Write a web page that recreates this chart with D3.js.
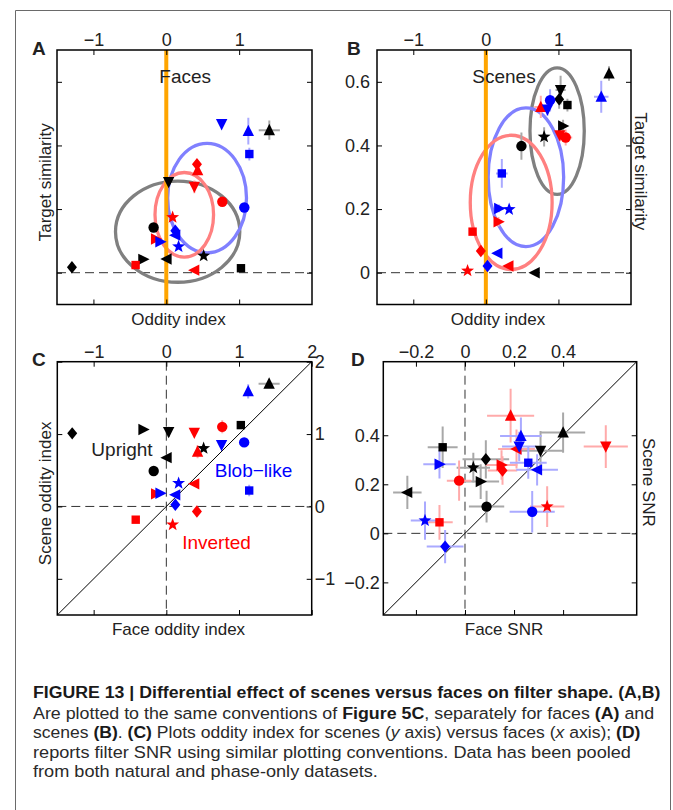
<!DOCTYPE html>
<html><head><meta charset="utf-8">
<script src="https://cdn.jsdelivr.net/npm/d3@7"></script>
<style>
body{margin:0;background:#fff}
svg{display:block}
</style>
</head><body>
<svg id="fig" width="673" height="810"></svg>
<script>
// ---------------- DATA ----------------
const groups = ["Upright", "Inverted", "Blob−like"];
const groupColors = ["#000000", "#ff0000", "#0000ff"];
const errColors = ["#a8a8a8", "#ffaaaa", "#aaaaff"];
const ellipseColors = ["#808080", "#ff8080", "#8080ff"];
const shapeNames = ["diamond", "right", "down", "left", "circle", "square", "up", "star"];

// 24 points: group-major (Upright, Inverted, Blob-like), shape order as shapeNames
const pointGroup = [0,0,0,0,0,0,0,0, 1,1,1,1,1,1,1,1, 2,2,2,2,2,2,2,2];
const pointShape = [0,1,2,3,4,5,6,7, 0,1,2,3,4,5,6,7, 0,1,2,3,4,5,6,7];

const faceOddity = [
  -1.295, -0.316, 0.032, 0.005, -0.174, 1.025, 1.414, 0.513,
   0.421, -0.142, 0.385, 0.385, 0.769, -0.421, 0.43, 0.087,
   0.124, -0.082, 0.76, 0.124, 1.071, 1.14, 1.126, 0.169];
const sceneOddity = [
   1.01, 1.064, 1.03, 0.674, 0.49, 1.124, 1.697, 0.803,
  -0.069, 0.174, 1.018, 0.312, 1.10, -0.183, 0.757, -0.252,
   0.023, 0.183, 0.849, 0.16, 0.885, 0.22, 1.59, 0.321];
const faceSimilarity = [
   0.017, 0.042, 0.285, 0.043, 0.142, 0.014, 0.448, 0.053,
   0.341, 0.106, 0.27, 0.008, 0.223, 0.024, 0.322, 0.174,
   0.132, 0.097, 0.467, 0.118, 0.205, 0.373, 0.445, 0.082];
const sceneSimilarity = [
   0.545, 0.461, 0.574, 0.0, 0.398, 0.527, 0.626, 0.427,
   0.068, 0.16, 0.432, 0.021, 0.425, 0.129, 0.521, 0.006,
   0.021, 0.202, 0.513, 0.061, 0.542, 0.312, 0.553, 0.199];
const faceSNR = [
   0.085, 0.064, 0.308, -0.235, 0.088, -0.091, 0.40, 0.034,
   0.153, 0.149, 0.574, 0.21, -0.024, -0.104, 0.186, 0.335,
  -0.081, -0.104, 0.221, 0.294, 0.274, 0.258, 0.228, -0.163];
const sceneSNR = [
   0.302, 0.211, 0.337, 0.167, 0.109, 0.351, 0.411, 0.268,
   0.256, 0.279, 0.354, 0.344, 0.215, 0.045, 0.48, 0.109,
  -0.054, 0.282, 0.354, 0.259, 0.088, 0.288, 0.397, 0.052];

// error half-widths
const faceOddErr = [
  0,0,0,0,0,0.02,0.145,0,
  0,0,0,0,0,0,0,0,
  0,0,0,0,0,0.02,0.02,0];
const sceneOddErr = [
  0,0,0.07,0,0,0.03,0.03,0.02,
  0,0,0.03,0,0.09,0,0.09,0,
  0,0,0.03,0,0.05,0.08,0.1,0];
const faceSimErr = [
  0,0,0,0,0,0,0.03,0,
  0.015,0,0.02,0,0.01,0,0.015,0,
  0,0,0,0,0,0.02,0.042,0];
const sceneSimErr = [
  0.03,0.02,0.045,0,0.043,0.02,0.023,0.03,
  0,0.015,0.02,0,0.025,0,0.035,0,
  0,0.012,0.02,0,0.035,0.045,0.05,0];
const faceSNRErr = [
  0.095,0.075,0.095,0.058,0.072,0.061,0.09,0.068,
  0.06,0.065,0.09,0.075,0.05,0.054,0.096,0.07,
  0.075,0.066,0.07,0.085,0.092,0.075,0.085,0.058];
const sceneSNRErr = [
  0.078,0.071,0.08,0.068,0.065,0.085,0.082,0.061,
  0.058,0.06,0.087,0.08,0.082,0.071,0.11,0.083,
  0.068,0.058,0.06,0.064,0.085,0.065,0.075,0.078];

// ellipses (Upright, Inverted, Blob-like): centre and radii in data units
const faceEllipseCx = [0.156, 0.247, 0.56];
const faceEllipseCy = [0.129, 0.182, 0.2345];
const faceEllipseRx = [0.853, 0.402, 0.541];
const faceEllipseRy = [0.159, 0.133, 0.172];
const sceneEllipseCx = [0.982, 0.349, 0.552];
const sceneEllipseCy = [0.445, 0.221, 0.300];
const sceneEllipseRx = [0.374, 0.564, 0.52];
const sceneEllipseRy = [0.199, 0.211, 0.218];

const oddityTicks = [-1, 0, 1];
const oddityTicksC = [-1, 0, 1, 2];
const similarityTicks = [0, 0.2, 0.4, 0.6];
const snrTicks = [-0.2, 0, 0.2, 0.4];

const captionLines = [
  [["FIGURE 13 | Differential effect of scenes versus faces on filter shape. (A,B)", "b"]],
  [["Are plotted to the same conventions of ", "n"], ["Figure 5C", "b"], [", separately for faces ", "n"], ["(A)", "b"], [" and", "n"]],
  [["scenes ", "n"], ["(B)", "b"], [". ", "n"], ["(C)", "b"], [" Plots oddity index for scenes (", "n"], ["y", "i"], [" axis) versus faces (", "n"], ["x", "i"], [" axis); ", "n"], ["(D)", "b"]],
  [["reports filter SNR using similar plotting conventions. Data has been pooled", "n"]],
  [["from both natural and phase-only datasets.", "n"]]
];

// ---------------- DRAW ----------------
const FONT = '"Liberation Sans", Arial, Helvetica, sans-serif';
const svg = d3.select("#fig");
svg.append("rect").attr("width", 673).attr("height", 810).attr("fill", "#fff");
svg.append("path").attr("d", "M15.5,810 V10.5 H670.5 V810")
  .attr("fill", "none").attr("stroke", "#6a6a6a").attr("stroke-width", 1);

// marker shapes
function shapeType(name) {
  return { draw(ctx) {
    switch (name) {
      case "diamond": ctx.moveTo(0,-6.2); ctx.lineTo(5,0); ctx.lineTo(0,6.2); ctx.lineTo(-5,0); ctx.closePath(); break;
      case "up": ctx.moveTo(0,-6.3); ctx.lineTo(5.7,5); ctx.lineTo(-5.7,5); ctx.closePath(); break;
      case "down": ctx.moveTo(0,6.3); ctx.lineTo(5.7,-5); ctx.lineTo(-5.7,-5); ctx.closePath(); break;
      case "left": ctx.moveTo(-6.3,0); ctx.lineTo(5,-5.7); ctx.lineTo(5,5.7); ctx.closePath(); break;
      case "right": ctx.moveTo(6.3,0); ctx.lineTo(-5,-5.7); ctx.lineTo(-5,5.7); ctx.closePath(); break;
      case "circle": ctx.moveTo(5.2,0); ctx.arc(0,0,5.2,0,2*Math.PI); break;
      case "square": ctx.moveTo(-4.2,-4.2); ctx.lineTo(4.2,-4.2); ctx.lineTo(4.2,4.2); ctx.lineTo(-4.2,4.2); ctx.closePath(); break;
      case "star": {
        for (let k = 0; k < 10; k++) {
          const r = k % 2 === 0 ? 6.8 : 2.8;
          const a = -Math.PI/2 + k * Math.PI/5;
          if (k === 0) ctx.moveTo(r*Math.cos(a), r*Math.sin(a)); else ctx.lineTo(r*Math.cos(a), r*Math.sin(a));
        }
        ctx.closePath(); break;
      }
    }
  }};
}

const fmt = d3.format("~g");

function panel(cfg) {
  const g = svg.append("g");
  const x = d3.scaleLinear().domain(cfg.xDomain).range([cfg.x0, cfg.x1]);
  const y = d3.scaleLinear().domain(cfg.yDomain).range([cfg.y1, cfg.y0]);
  const clipId = "clip" + cfg.id;
  svg.append("clipPath").attr("id", clipId).append("rect")
    .attr("x", cfg.x0).attr("y", cfg.y0).attr("width", cfg.x1 - cfg.x0).attr("height", cfg.y1 - cfg.y0);
  const plot = g.append("g").attr("clip-path", `url(#${clipId})`);

  // dashed zero lines
  if (cfg.hZero) plot.append("line").attr("x1", cfg.x0).attr("x2", cfg.x1).attr("y1", y(0)).attr("y2", y(0))
    .attr("stroke", "#333").attr("stroke-width", 1).attr("stroke-dasharray", "9,5");
  if (cfg.vZero) plot.append("line").attr("x1", x(0)).attr("x2", x(0)).attr("y1", cfg.y0).attr("y2", cfg.y1)
    .attr("stroke", "#333").attr("stroke-width", 1).attr("stroke-dasharray", "9,5");
  if (cfg.diag) plot.append("line")
    .attr("x1", x(Math.max(cfg.xDomain[0], cfg.yDomain[0]))).attr("y1", y(Math.max(cfg.xDomain[0], cfg.yDomain[0])))
    .attr("x2", x(Math.min(cfg.xDomain[1], cfg.yDomain[1]))).attr("y2", y(Math.min(cfg.xDomain[1], cfg.yDomain[1])))
    .attr("stroke", "#000").attr("stroke-width", 1);

  // ellipses
  if (cfg.ell) {
    [0, 2, 1].forEach(i => {
      plot.append("ellipse")
        .attr("cx", x(cfg.ell.cx[i])).attr("cy", y(cfg.ell.cy[i]))
        .attr("rx", x(cfg.ell.cx[i] + cfg.ell.rx[i]) - x(cfg.ell.cx[i]))
        .attr("ry", y(cfg.ell.cy[i]) - y(cfg.ell.cy[i] + cfg.ell.ry[i]))
        .attr("fill", "none").attr("stroke", ellipseColors[i]).attr("stroke-width", 3.3);
    });
  }
  if (cfg.orange) plot.append("line").attr("x1", x(0)).attr("x2", x(0)).attr("y1", cfg.y0).attr("y2", cfg.y1)
    .attr("stroke", "#ffa500").attr("stroke-width", 4);

  // error bars
  const idx = d3.range(pointGroup.length);
  const eb = plot.append("g").attr("stroke-width", 2);
  idx.forEach(i => {
    const xv = cfg.xs[i], yv = cfg.ys[i], ex = cfg.xe[i], ey = cfg.ye[i];
    if (ex > 0) eb.append("line").attr("x1", x(xv - ex)).attr("x2", x(xv + ex)).attr("y1", y(yv)).attr("y2", y(yv)).attr("stroke", errColors[pointGroup[i]]);
    if (ey > 0) eb.append("line").attr("x1", x(xv)).attr("x2", x(xv)).attr("y1", y(yv - ey)).attr("y2", y(yv + ey)).attr("stroke", errColors[pointGroup[i]]);
  });
  // markers
  g.append("g").selectAll("path").data(idx).join("path")
    .attr("transform", i => `translate(${x(cfg.xs[i])},${y(cfg.ys[i])})`)
    .attr("d", i => d3.symbol().type(shapeType(shapeNames[pointShape[i]]))())
    .attr("fill", i => groupColors[pointGroup[i]]);

  // axes (inward ticks on all four sides)
  function side(orient, ticks, labeled, pad) {
    const gen = {top: d3.axisTop, bottom: d3.axisBottom, left: d3.axisLeft, right: d3.axisRight}[orient];
    const sc = (orient === "top" || orient === "bottom") ? x : y;
    const ax = gen(sc).tickValues(ticks).tickSize(-5).tickPadding(pad).tickFormat(labeled ? fmt : () => "");
    const tr = {top: `translate(0,${cfg.y0})`, bottom: `translate(0,${cfg.y1})`, left: `translate(${cfg.x0},0)`, right: `translate(${cfg.x1},0)`}[orient];
    const a = g.append("g").attr("transform", tr).call(ax);
    a.select(".domain").remove();
    a.attr("font-family", FONT).attr("font-size", 18);
    a.selectAll("text").attr("fill", "#222");
    a.selectAll("line").attr("stroke", "#000");
  }
  side("top", cfg.xTicks, true, 4);
  side("bottom", cfg.xTicks, false, 3);
  side("left", cfg.yTicks, cfg.yLabelSide === "left", cfg.yPad || 4);
  side("right", cfg.yTicks, cfg.yLabelSide === "right", cfg.yPad || 4);

  g.append("rect").attr("x", cfg.x0).attr("y", cfg.y0).attr("width", cfg.x1 - cfg.x0).attr("height", cfg.y1 - cfg.y0)
    .attr("fill", "none").attr("stroke", "#000").attr("stroke-width", 1.5);

  // labels
  g.append("text").attr("x", cfg.letterX).attr("y", cfg.letterY).text(cfg.id)
    .attr("font-family", FONT).attr("font-weight", "bold").attr("font-size", 19).attr("fill", "#222");
  g.append("text").attr("x", (cfg.x0 + cfg.x1) / 2 - 6).attr("y", cfg.y1 + 20).attr("text-anchor", "middle")
    .attr("font-family", FONT).attr("font-size", 17).attr("fill", "#222").text(cfg.xTitle);
  const yt = g.append("text").attr("text-anchor", "middle").attr("font-family", FONT).attr("font-size", 17).attr("fill", "#222").text(cfg.yTitle);
  if (cfg.yTitleSide === "left") yt.attr("transform", `translate(${cfg.yTitleX},${(cfg.y0 + cfg.y1) / 2 + 5}) rotate(-90)`);
  else yt.attr("transform", `translate(${cfg.yTitleX},${(cfg.y0 + cfg.y1) / 2 - 6}) rotate(90)`);
  if (cfg.title) g.append("text").attr("x", x(cfg.title.at)).attr("y", cfg.y0 + 33).attr("text-anchor", "middle")
    .attr("font-family", FONT).attr("font-size", 19).attr("fill", "#222").text(cfg.title.text);
  return {g, x, y};
}

const A = panel({id: "A", x0: 57, x1: 312, y0: 50, y1: 304.5, xDomain: [-1.5, 2], yDomain: [-0.1, 0.7],
  xs: faceOddity, ys: faceSimilarity, xe: faceOddErr, ye: faceSimErr,
  ell: {cx: faceEllipseCx, cy: faceEllipseCy, rx: faceEllipseRx, ry: faceEllipseRy},
  hZero: true, orange: true, xTicks: oddityTicks, yTicks: similarityTicks, yLabelSide: "none",
  letterX: 32, letterY: 54.5, xTitle: "Oddity index", yTitle: "Target similarity", yTitleSide: "left", yTitleX: 50.5,
  title: {text: "Faces", at: 0.26}});
const B = panel({id: "B", x0: 377, x1: 631, y0: 50, y1: 304.5, xDomain: [-1.5, 2], yDomain: [-0.1, 0.7],
  xs: sceneOddity, ys: sceneSimilarity, xe: sceneOddErr, ye: sceneSimErr,
  ell: {cx: sceneEllipseCx, cy: sceneEllipseCy, rx: sceneEllipseRx, ry: sceneEllipseRy},
  hZero: true, orange: true, xTicks: oddityTicks, yTicks: similarityTicks, yLabelSide: "left", yPad: 7,
  letterX: 347, letterY: 54.5, xTitle: "Oddity index", yTitle: "Target similarity", yTitleSide: "right", yTitleX: 634.5,
  title: {text: "Scenes", at: 0.25}});
const C = panel({id: "C", x0: 57.3, x1: 311.7, y0: 361.7, y1: 615, xDomain: [-1.5, 2], yDomain: [-1.5, 2],
  xs: faceOddity, ys: sceneOddity, xe: faceOddErr, ye: sceneOddErr,
  hZero: true, vZero: true, diag: true, xTicks: oddityTicksC, yTicks: oddityTicksC, yLabelSide: "right", yPad: 3,
  letterX: 32, letterY: 366, xTitle: "Face oddity index", yTitle: "Scene oddity index", yTitleSide: "left", yTitleX: 50.5});
const D = panel({id: "D", x0: 383.3, x1: 636.7, y0: 361.7, y1: 615, xDomain: [-0.333, 0.7], yDomain: [-0.333, 0.7],
  xs: faceSNR, ys: sceneSNR, xe: faceSNRErr, ye: sceneSNRErr,
  hZero: true, vZero: true, diag: true, xTicks: snrTicks, yTicks: snrTicks, yLabelSide: "left", yPad: 3.5,
  letterX: 351, letterY: 366, xTitle: "Face SNR", yTitle: "Scene SNR", yTitleSide: "right", yTitleX: 642.5});

// group labels in C (data coordinates of each label's baseline centre)
const cLabelPos = [[-0.61, 0.70], [0.69, -0.59], [1.2, 0.41]];
groups.forEach((name, i) => {
  C.g.append("text").attr("x", C.x(cLabelPos[i][0])).attr("y", C.y(cLabelPos[i][1])).attr("text-anchor", "middle")
    .attr("font-family", FONT).attr("font-size", 19).attr("fill", i === 0 ? "#222" : groupColors[i]).text(name);
});

// caption
const capBase = [698, 718.5, 738, 757.5, 777];
const capTarget = [628, 622, 608, 598, null];
let lastScale = 0.95;
captionLines.forEach((segs, li) => {
  const gg = svg.append("g");
  const t = gg.append("text").attr("x", 0).attr("y", 0).attr("font-family", FONT).attr("font-size", 17)
    .attr("fill", "#2a2a2a");
  segs.forEach(([s, st]) => {
    const sp = t.append("tspan").text(s);
    if (st === "b") sp.attr("font-weight", "bold").attr("fill", "#1a1a1a");
    if (st === "i") sp.attr("font-style", "italic");
  });
  const w = t.node().getComputedTextLength();
  let sc = capTarget[li] ? capTarget[li] / w : lastScale;
  if (li === 3) lastScale = sc;
  gg.attr("transform", `translate(33,${capBase[li]}) scale(${sc},1)`);
});
</script>
</body></html>
